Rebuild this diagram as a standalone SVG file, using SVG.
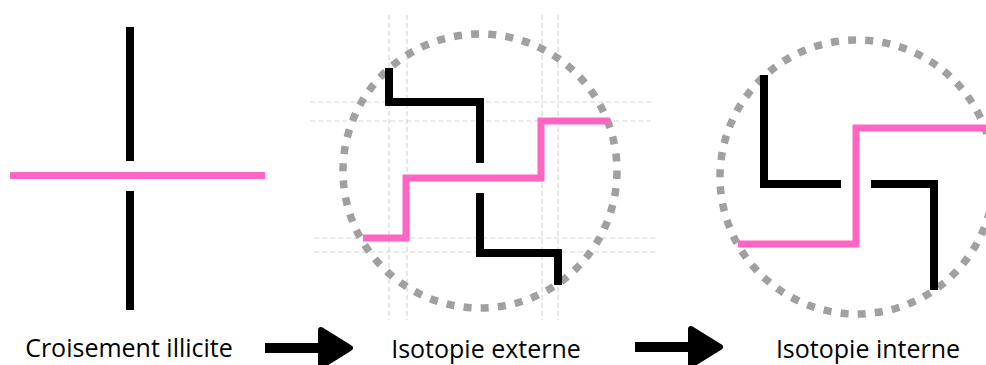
<svg xmlns="http://www.w3.org/2000/svg" width="986" height="365" viewBox="0 0 986 365">
<style>
.blk{fill:none;stroke:#000;stroke-width:8;stroke-linejoin:miter;stroke-linecap:butt}
.pnk{fill:none;stroke:#ff66c4;stroke-width:7;stroke-linejoin:miter;stroke-linecap:butt}
.dot{fill:none;stroke:#a0a0a0;stroke-width:7.5;stroke-dasharray:8 9.2}
.grid{fill:none;stroke:#d6d6d6;stroke-width:1.2;stroke-dasharray:5 3}
.lbl{font-family:"Open Sans","Noto Sans",sans-serif;font-size:25px;fill:#000;text-anchor:middle}
.arr{fill:#000;stroke:#000;stroke-width:6;stroke-linejoin:round}
</style>
<rect width="986" height="365" fill="#fff"/>
<g id="panel1">
<line class="blk" x1="130" y1="27" x2="130" y2="161"/>
<line class="blk" x1="130" y1="191" x2="130" y2="310"/>
<line class="pnk" x1="10" y1="175.5" x2="265" y2="175.5"/>
<text class="lbl" x="129" y="357">Croisement illicite</text>
</g>
<g id="panel2">
<g class="grid-lines">
<line class="grid" x1="389" y1="15" x2="389" y2="320"/>
<line class="grid" x1="407" y1="15" x2="407" y2="320"/>
<line class="grid" x1="542" y1="15" x2="542" y2="320"/>
<line class="grid" x1="558" y1="15" x2="558" y2="320"/>
<line class="grid" x1="310" y1="102" x2="652" y2="102"/>
<line class="grid" x1="310" y1="121" x2="652" y2="121"/>
<line class="grid" x1="314" y1="238" x2="656" y2="238"/>
<line class="grid" x1="314" y1="252" x2="656" y2="252"/>
</g>
<circle class="dot" cx="480" cy="171" r="137"/>
<path class="blk" d="M389,68 V102 H480 V163"/>
<path class="blk" d="M480,193 V253 H558 V285"/>
<path class="pnk" d="M363,238 H406 V178 H541 V121 H610"/>
<text class="lbl" x="486" y="358">Isotopie externe</text>
</g>
<g id="panel3">
<circle class="dot" cx="857" cy="177" r="137"/>
<path class="blk" d="M764,75 V184 H841"/>
<path class="blk" d="M871,184 H934 V290"/>
<path class="pnk" d="M738,244 H856 V128 H986"/>
<text class="lbl" x="868" y="358">Isotopie interne</text>
</g>
<g id="connectors">
<g id="arrow1">
<rect x="265" y="343" width="56" height="10" fill="#000"/>
<polygon class="arr" points="321,330 350,348 321,366"/>
</g>
<g id="arrow2">
<rect x="635" y="342" width="56" height="10" fill="#000"/>
<polygon class="arr" points="691,329 720,347 691,365"/>
</g>
</g>
</svg>
